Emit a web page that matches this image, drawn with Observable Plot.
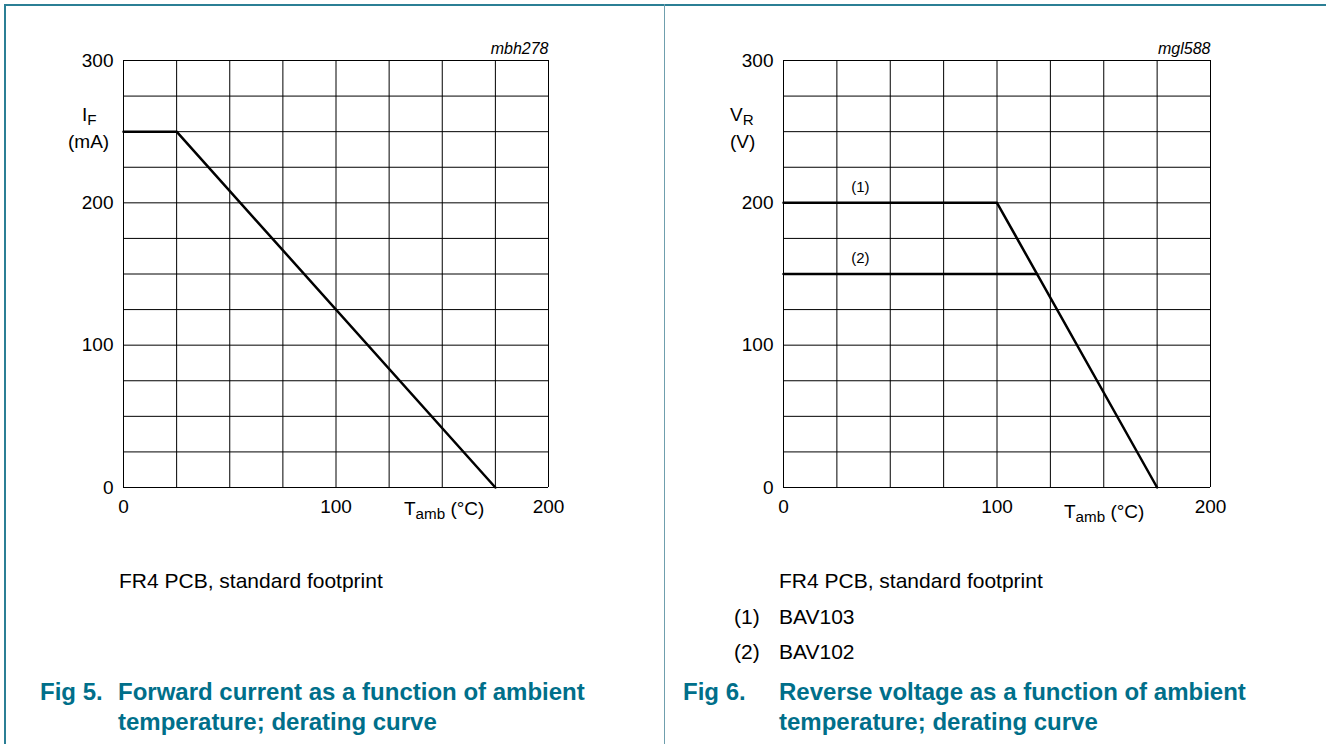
<!DOCTYPE html>
<html>
<head>
<meta charset="utf-8">
<script src="https://cdn.jsdelivr.net/npm/d3@7"></script>
<script src="https://cdn.jsdelivr.net/npm/@observablehq/plot@0.6"></script>
<style>
  html, body { margin: 0; padding: 0; background: #fff; }
  body { width: 1326px; height: 744px; position: relative; overflow: hidden; font-family: "Liberation Sans", Arial, sans-serif; color: #000; }
  .abs { position: absolute; white-space: nowrap; line-height: 1; }
  .note { font-size: 21px; }
  .cap { font-size: 24px; font-weight: bold; color: #006f8a; }
  .lab { font-size: 19px; }
  sub { font-size: 0.8em; vertical-align: -0.25em; line-height: 0; }
  .hline { position: absolute; background: #2b7f95; }
</style>
</head>
<body>
<div class="hline" style="left:4px; top:4px; width:1322px; height:1.5px;"></div>
<div class="hline" style="left:4px; top:4px; width:1.5px; height:740px;"></div>
<div class="hline" style="left:664px; top:4px; width:1.2px; height:740px; background:#6f9fad;"></div>

<div id="c1" style="position:absolute; left:0; top:0;"></div>
<div id="c2" style="position:absolute; left:660px; top:0;"></div>

<div class="abs lab" style="left:82px; top:105px;">I<sub>F</sub></div>
<div class="abs lab" style="left:68px; top:132px;">(mA)</div>
<div class="abs lab" style="left:404px; top:499px;">T<sub>amb</sub> (°C)</div>

<div class="abs lab" style="left:730px; top:105px;">V<sub>R</sub></div>
<div class="abs lab" style="left:730px; top:132px;">(V)</div>
<div class="abs lab" style="left:1064px; top:502px;">T<sub>amb</sub> (°C)</div>

<div class="abs note" style="left:119px; top:570px;">FR4 PCB, standard footprint</div>
<div class="abs note" style="left:779px; top:570px;">FR4 PCB, standard footprint</div>
<div class="abs note" style="left:734px; top:606px;">(1)</div>
<div class="abs note" style="left:779px; top:606px;">BAV103</div>
<div class="abs note" style="left:734px; top:641px;">(2)</div>
<div class="abs note" style="left:779px; top:641px;">BAV102</div>

<div class="abs cap" style="left:40px; top:680px;">Fig 5.</div>
<div class="abs cap" style="left:118px; top:680px;">Forward current as a function of ambient</div>
<div class="abs cap" style="left:118px; top:710px;">temperature; derating curve</div>
<div class="abs cap" style="left:683px; top:680px;">Fig 6.</div>
<div class="abs cap" style="left:779px; top:680px;">Reverse voltage as a function of ambient</div>
<div class="abs cap" style="left:779px; top:710px;">temperature; derating curve</div>

<script>
// ---- data ----
const xTicks = [0, 100, 200];
const yTicks = [0, 100, 200, 300];
const gridStepsX = [0, 25, 50, 75, 100, 125, 150, 175, 200];
const gridStepsY = [0, 25, 50, 75, 100, 125, 150, 175, 200, 225, 250, 275, 300];

const fig5Temp = [0, 25, 175];
const fig5Current = [250, 250, 0];

const bav103Temp = [0, 100, 175];
const bav103Volt = [200, 200, 0];
const bav102Temp = [0, 118.75];
const bav102Volt = [150, 150];

const curveLabels = ["(1)", "(2)"];
const curveLabelTemp = [36, 36];
const curveLabelVolt = [200, 150];

function zip(xs, ys) { return xs.map((x, i) => ({x, y: ys[i]})); }

function base(marks, id, marginRight) {
  return Plot.plot({
    width: 664,
    height: 540,
    marginLeft: 123,
    marginRight: marginRight,
    marginTop: 60,
    marginBottom: 53,
    style: { fontFamily: "Liberation Sans, Arial, sans-serif", fontSize: "19px", color: "#000", background: "transparent" },
    x: { domain: [0, 200] },
    y: { domain: [0, 300] },
    marks: [
      Plot.ruleX(gridStepsX, { stroke: "#000", strokeWidth: 1 }),
      Plot.ruleY(gridStepsY, { stroke: "#000", strokeWidth: 1 }),
      Plot.axisY({ ticks: yTicks, tickSize: 0, tickPadding: 10, label: null, fontSize: 19 }),
      Plot.axisX({ ticks: xTicks, tickSize: 0, tickPadding: 12, label: null, fontSize: 19 }),
      Plot.text([id], { frameAnchor: "top-right", lineAnchor: "bottom", dy: -7, fontStyle: "italic", fontSize: 16 }),
      ...marks
    ]
  });
}

const c1 = base([
  Plot.line(zip(fig5Temp, fig5Current), { x: "x", y: "y", stroke: "#000", strokeWidth: 2.5 })
], "mbh278", 116);
document.getElementById("c1").appendChild(c1);

const c2 = base([
  Plot.line(zip(bav103Temp, bav103Volt), { x: "x", y: "y", stroke: "#000", strokeWidth: 2.5 }),
  Plot.line(zip(bav102Temp, bav102Volt), { x: "x", y: "y", stroke: "#000", strokeWidth: 2.5 }),
  Plot.text(curveLabels.map((t, i) => ({t, x: curveLabelTemp[i], y: curveLabelVolt[i]})), { x: "x", y: "y", text: "t", dy: -16, fontSize: 15 })
], "mgl588", 114);
document.getElementById("c2").appendChild(c2);
</script>
</body>
</html>
